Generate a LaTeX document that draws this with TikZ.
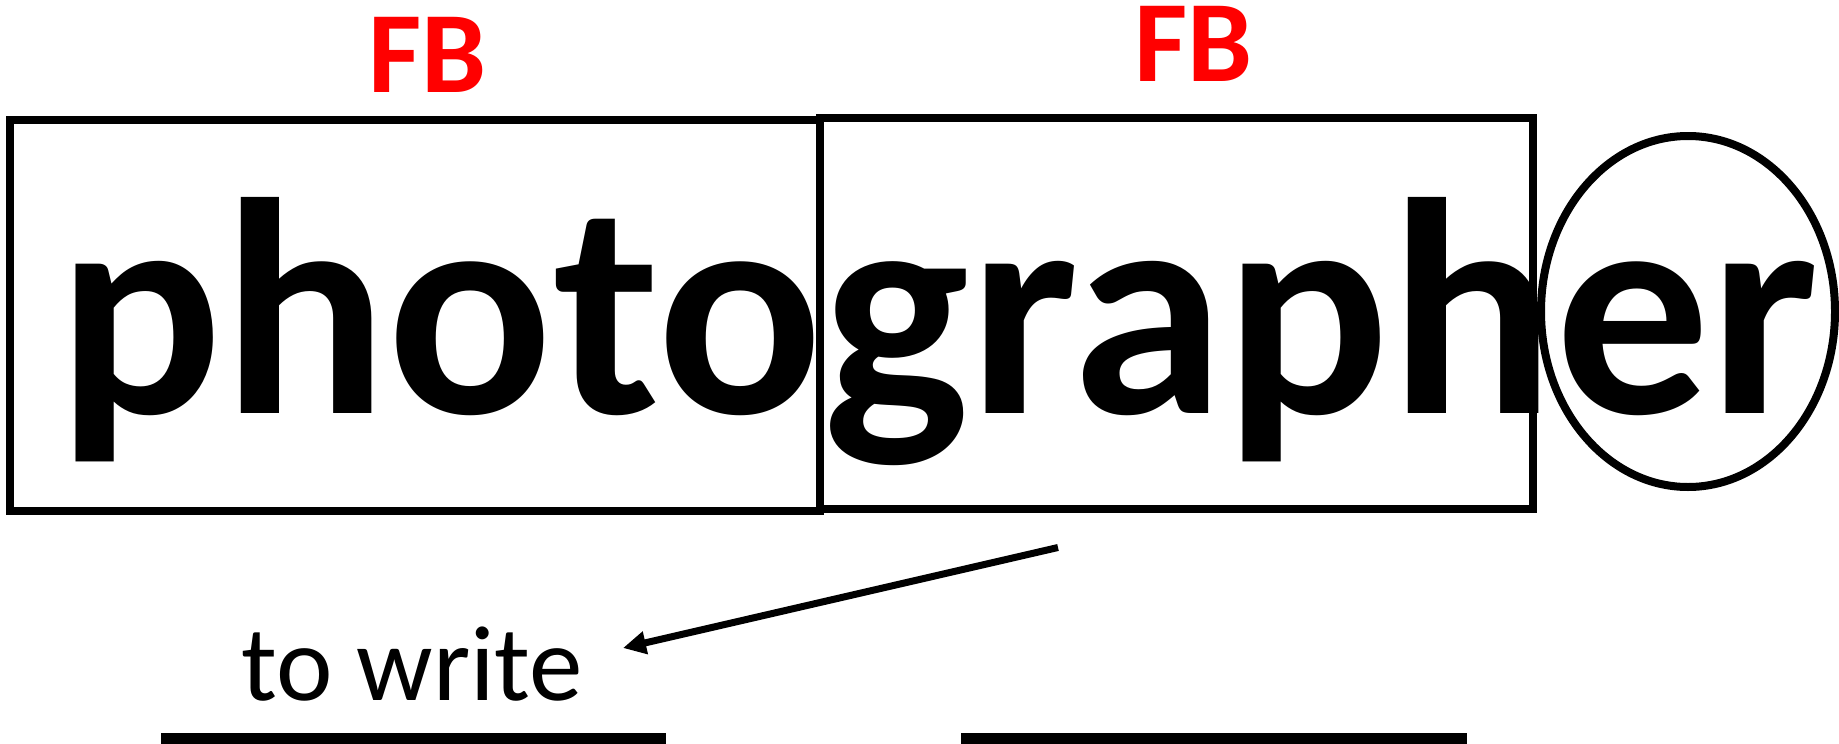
\documentclass[tikz,border=0pt]{standalone}
\usepackage{fontspec}
\setmainfont{Carlito}
\usetikzlibrary{arrows.meta}
\definecolor{fbred}{RGB}{255,0,0}
\begin{document}
\begin{tikzpicture}[x=1pt,y=-1pt,
  frame/.style={draw=black,line width=8pt},
  bigword/.style={font=\fontsize{308}{320}\selectfont\bfseries, inner sep=0pt, anchor=base west},
  fbmark/.style={font=\fontsize{116}{120}\selectfont\bfseries, text=fbred, inner sep=0pt, text height=76pt, text depth=0pt, anchor=base west},
  gloss/.style={font=\fontsize{107}{110}\selectfont, inner sep=0pt, anchor=base west},
  arr/.style={line width=7pt, -{Triangle[length=23pt,width=22pt]}},
  blank/.style={fill=black}]
\useasboundingbox (0,0) rectangle (1839,744);
% frames
\draw[frame] (10,120) rectangle (820,511);
\draw[frame] (820,118) rectangle (1533,509);
\draw[frame] (1688,311.5) ellipse [x radius=147pt, y radius=175.5pt];
% word
\node[bigword] (word) at (57,413) {photographer};
% FB labels
\node[fbmark] (fb1) at (368,92) {FB};
\node[fbmark] (fb2) at (1134,81) {FB};
% gloss
\node[gloss] (gloss) at (241,700) {to write};
% arrow
\coordinate (tail) at (1058,547.5);
\coordinate (tip) at (623,648);
\draw[arr] (tail) -- (tip);
% blanks
\fill[blank] (161,733) rectangle (666,744);
\fill[blank] (961,733) rectangle (1467,744);
\end{tikzpicture}
\end{document}
